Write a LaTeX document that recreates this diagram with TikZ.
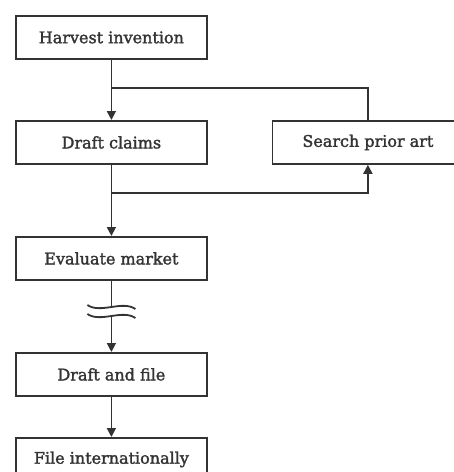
\documentclass[tikz,border=0pt]{standalone}
\usepackage{fontspec}
\newfontfamily\labfont{DejaVu Serif}[FakeBold=1.8]
\usetikzlibrary{arrows.meta}
\definecolor{ink}{HTML}{333333}
\tikzset{
  stepbox/.style={draw=ink, line width=1.8pt, minimum width=191pt, minimum height=43pt,
    inner sep=0pt, text=ink, font=\labfont\fontsize{16}{19}\selectfont, anchor=north west},
  conn/.style={draw=ink, line width=1.8pt},
  arr/.style={conn, -{Triangle[length=9pt,width=9pt]}},
}
\begin{document}
\begin{tikzpicture}[x=1pt,y=-1pt]
\useasboundingbox (0,0) rectangle (454,472);
\clip (0,0) rectangle (454,472);
\node[stepbox] (harvest) at (15,15) {Harvest invention};
\node[stepbox] (draft) at (15,120) {Draft claims};
\node[stepbox] (search) at (271.5,120) {Search prior art};
\node[stepbox] (evaluate) at (15,236) {Evaluate market};
\node[stepbox] (file) at (15,352) {Draft and file};
\node[stepbox] (intl) at (15,437) {File internationally};
\coordinate (j1) at (harvest.south |- 0,88);
\coordinate (j2) at (draft.south |- 0,193);
\coordinate (w1) at (evaluate.south |- 0,307);
\coordinate (w2) at (evaluate.south |- 0,316);
\draw[arr] (harvest.south) -- (draft.north);
\draw[conn] (search.north) |- (j1);
\draw[arr] (j2) -| (search.south);
\draw[arr] (draft.south) -- (evaluate.north);
\draw[conn] (evaluate.south) -- (w1);
\draw[conn] ([xshift=-24pt,yshift=2pt]w1) .. controls ([xshift=-11pt,yshift=-7pt]w1) and ([xshift=11pt,yshift=7pt]w1) .. ([xshift=24pt,yshift=-2pt]w1);
\draw[conn] ([xshift=-24pt,yshift=2pt]w2) .. controls ([xshift=-11pt,yshift=-7pt]w2) and ([xshift=11pt,yshift=7pt]w2) .. ([xshift=24pt,yshift=-2pt]w2);
\draw[arr] (w2) -- (file.north);
\draw[arr] (file.south) -- (intl.north);
\end{tikzpicture}
\end{document}
